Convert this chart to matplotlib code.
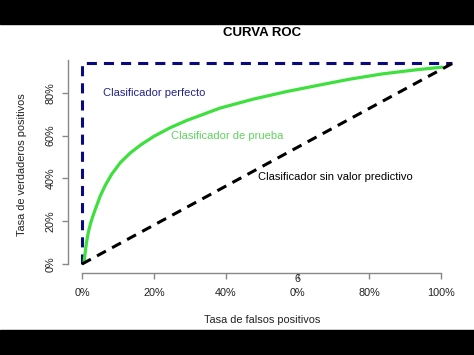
import matplotlib
matplotlib.use("Agg")
import matplotlib.pyplot as plt
from matplotlib.patches import Rectangle

plt.rcParams['font.family'] = ['Liberation Sans', 'DejaVu Sans']

# curva del clasificador de prueba
fpr_prueba = [0.006, 0.009, 0.013, 0.018, 0.024, 0.030, 0.037, 0.051, 0.065, 0.083,
              0.107, 0.134, 0.165, 0.200, 0.245, 0.291, 0.384, 0.477, 0.569, 0.662,
              0.745, 0.837, 0.931, 1.0]
tpr_prueba = [0.010, 0.055, 0.105, 0.150, 0.190, 0.222, 0.255, 0.318, 0.368, 0.420,
              0.474, 0.518, 0.558, 0.596, 0.636, 0.670, 0.728, 0.770, 0.805, 0.836,
              0.863, 0.888, 0.907, 0.919]

# clasificador perfecto y sin valor predictivo
fpr_perfecto = [0.0, 0.0, 1.03]
tpr_perfecto = [0.0, 0.94, 0.94]
fpr_azar = [0.0, 1.04]
tpr_azar = [0.0, 0.945]

xticks = [0.0, 0.2, 0.4, 0.6, 0.8, 1.0]
xtick_labels = ["0%", "20%", "40%", "0%", "80%", "100%"]
yticks = [0.0, 0.2, 0.4, 0.6, 0.8]
ytick_labels = ["0%", "20%", "40%", "60%", "80%"]

W, H = 474, 355
fig = plt.figure(figsize=(W / 100, H / 100), dpi=100)
ax = fig.add_axes([67.6 / W, 1 - 272.6 / H, (470 - 67.6) / W, (272.6 - 52) / H])

# barras negras arriba y abajo
fig.patches.append(Rectangle((0, 1 - 24 / H), 1, 24 / H, transform=fig.transFigure,
                             color="black", zorder=0))
fig.patches.append(Rectangle((0, 0), 1, 25 / H, transform=fig.transFigure,
                             color="black", zorder=0))

ax.plot(fpr_perfecto, tpr_perfecto, color="#0a0a80", lw=2.2, dashes=(3.3, 2.3))
ax.plot(fpr_prueba, tpr_prueba, color="#3ee03e", lw=2.3)
ax.plot(fpr_azar, tpr_azar, color="black", lw=2.2, dashes=(3.3, 2.3))

ax.text(0.058, 0.80, "Clasificador perfecto", color="#22228a", fontsize=8, va="center")
ax.text(0.247, 0.60, "Clasificador de prueba", color="#5fd35f", fontsize=8, va="center")
ax.text(0.49, 0.405, "Clasificador sin valor predictivo", color="black", fontsize=8,
        va="center")

ax.set_xlim(-0.04, 1.08)
ax.set_ylim(-0.04, 0.99)

for s in ["top", "right"]:
    ax.spines[s].set_visible(False)
ax.spines["left"].set_bounds(0, 0.953)
ax.spines["bottom"].set_bounds(0, 1)
for s in ["left", "bottom"]:
    ax.spines[s].set_color("#888888")
    ax.spines[s].set_linewidth(1.0)

ax.set_xticks(xticks)
ax.set_xticklabels(xtick_labels)
ax.set_yticks(yticks)
ax.set_yticklabels(ytick_labels, rotation=90, va="center")
ax.tick_params(axis="both", colors="#888888", length=4.3, width=1.0, labelsize=7.8,
               labelcolor="#222222")
ax.tick_params(axis="x", pad=6.5)
ax.tick_params(axis="y", pad=4.5)

# el "6" suelto encima del tercer 0%
ax.text(0.6, -0.029, "6", transform=ax.get_xaxis_transform(), fontsize=7.8,
        ha="center", va="center", color="#222222")

fig.text(262 / W, 1 - 33 / H, "CURVA ROC", fontsize=9.5, fontweight="bold",
         ha="center", va="center")
fig.text(262 / W, 1 - 320 / H, "Tasa de falsos positivos", fontsize=7.9,
         ha="center", va="center", color="#222222")
fig.text(22 / W, 1 - 165 / H, "Tasa de verdaderos positivos", fontsize=7.9,
         rotation=90, ha="center", va="center", color="#222222")

fig.savefig("out.png", dpi=100)
